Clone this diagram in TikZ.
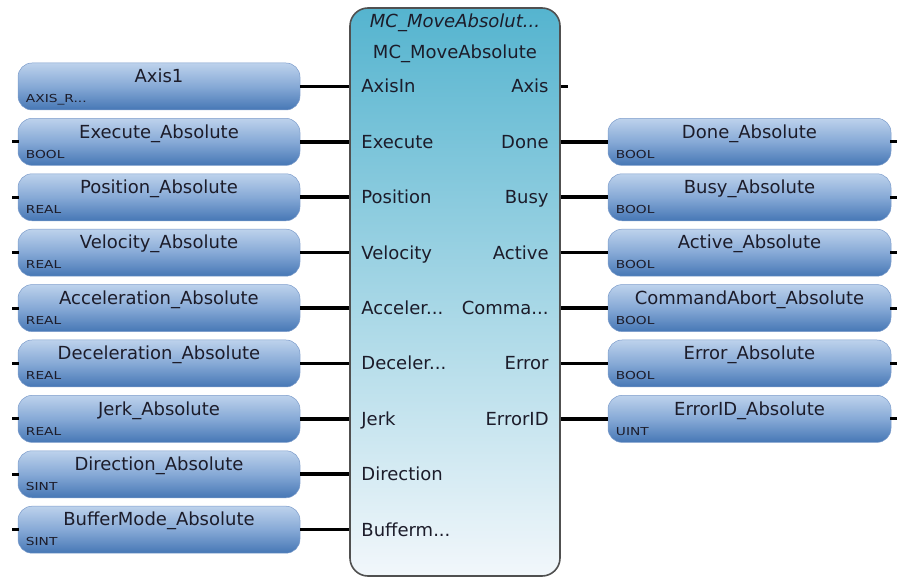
\documentclass[tikz,border=0pt]{standalone}
\usepackage{fontspec}
\setmainfont{DejaVu Sans}
\definecolor{vtop}{HTML}{BDD2EC}
\definecolor{vmid}{HTML}{86A9D6}
\definecolor{vbot}{HTML}{4677B5}
\definecolor{vedge}{HTML}{7C9CCB}
\definecolor{btop}{HTML}{55B4CF}
\definecolor{bbot}{HTML}{F2F7FB}
\definecolor{bedge}{HTML}{505050}
\definecolor{txt}{HTML}{1C1C2A}
\newcommand{\trdots}{...}
\begin{document}
\begin{tikzpicture}[x=1pt,y=-1pt,
  varbox/.style={rounded corners=14pt, top color=vtop, bottom color=vbot, middle color=vmid,
    draw=vedge, line width=0.5pt, minimum width=282pt, minimum height=47pt, inner sep=0pt},
  fbblock/.style={rounded corners=18pt, top color=btop, bottom color=bbot, draw=bedge,
    line width=1.6pt, minimum width=210pt, minimum height=568pt, inner sep=0pt},
  vtitle/.style={anchor=base, inner sep=0pt, text=txt, font=\fontsize{18}{20}\selectfont},
  vtype/.style={anchor=base west, inner sep=0pt, text=txt, font=\fontsize{11}{12}\selectfont},
  pinl/.style={anchor=base west, inner sep=0pt, text=txt, font=\fontsize{18}{20}\selectfont},
  pinr/.style={anchor=base east, inner sep=0pt, text=txt, font=\fontsize{18}{20}\selectfont},
  wire/.style={line width=3.6pt, black},
  stub/.style={line width=3pt, black}
]
\useasboundingbox (0,0) rectangle (898,577);

% function block
\node[fbblock] (blk) at (455,292) {};
\node[anchor=base, inner sep=0pt, text=txt, font=\fontsize{18}{20}\selectfont\itshape] (hdr) at (455,28) {MC\_MoveAbsolut\trdots};
\node[anchor=base, inner sep=0pt, text=txt, font=\fontsize{18}{20}\selectfont] (typ) at (455,59) {MC\_MoveAbsolute};

% left variables
\foreach \i/\nm/\ty/\pin in {0/Axis1/AXIS\_R\trdots/AxisIn,
  1/Execute\_Absolute/BOOL/Execute,
  2/Position\_Absolute/REAL/Position,
  3/Velocity\_Absolute/REAL/Velocity,
  4/Acceleration\_Absolute/REAL/Acceler\trdots,
  5/Deceleration\_Absolute/REAL/Deceler\trdots,
  6/Jerk\_Absolute/REAL/Jerk,
  7/Direction\_Absolute/SINT/Direction,
  8/BufferMode\_Absolute/SINT/Bufferm\trdots}{
  \pgfmathsetmacro{\yy}{86.5+55.4*\i}
  \node[varbox] (L\i) at (159,\yy) {};
  \node[vtitle] (L\i t) at ([yshift=-20pt]L\i.north) {\nm};
  \node[vtype] (L\i y) at ([xshift=8pt,yshift=-40pt]L\i.north west) {\scalebox{1.25}[1]{\ty}};
  \node[pinl] (P\i) at ([xshift=12pt,yshift=-6.5pt]blk.west |- L\i.center) {\pin};
  \draw[wire] (L\i.east) -- (L\i.east -| blk.west);
}
\foreach \i in {1,2,3,4,5,6,7,8}{
  \draw[stub] ([xshift=1pt]L\i.west) -- ++(-7,0);
}

% right variables
\node[pinr] (Q0) at ([xshift=-12pt,yshift=-6.5pt]blk.east |- L0.center) {Axis};
\draw[stub] (blk.east |- L0.center) -- ++(7,0);
\foreach \i/\nm/\ty/\pin in {1/Done\_Absolute/BOOL/Done,
  2/Busy\_Absolute/BOOL/Busy,
  3/Active\_Absolute/BOOL/Active,
  4/CommandAbort\_Absolute/BOOL/Comma\trdots,
  5/Error\_Absolute/BOOL/Error,
  6/ErrorID\_Absolute/UINT/ErrorID}{
  \pgfmathsetmacro{\yy}{86.5+55.4*\i}
  \node[varbox, minimum width=283pt] (R\i) at (749.5,\yy) {};
  \node[vtitle] (R\i t) at ([yshift=-20pt]R\i.north) {\nm};
  \node[vtype] (R\i y) at ([xshift=8pt,yshift=-40pt]R\i.north west) {\scalebox{1.25}[1]{\ty}};
  \node[pinr] (Q\i) at ([xshift=-12pt,yshift=-6.5pt]blk.east |- R\i.center) {\pin};
  \draw[wire] (blk.east |- R\i.center) -- (R\i.west);
  \draw[stub] ([xshift=-1pt]R\i.east) -- ++(7,0);
}
\end{tikzpicture}
\end{document}
